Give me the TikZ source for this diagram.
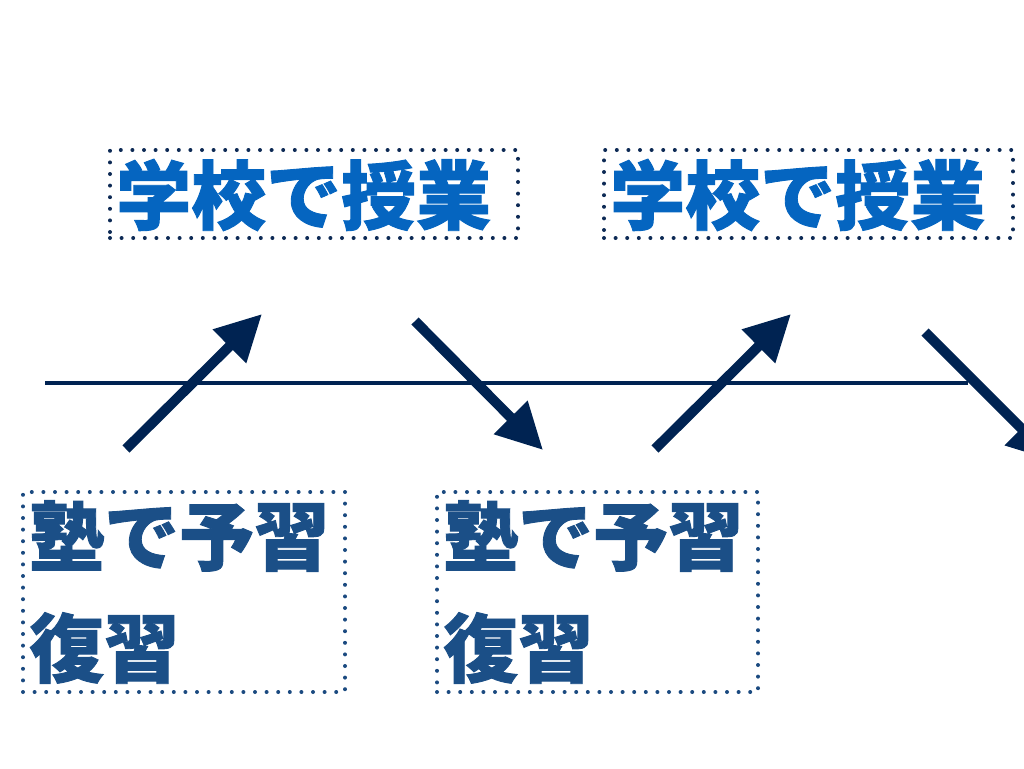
\documentclass[tikz,border=0pt]{standalone}
\usepackage{fontspec}
\newfontfamily\cjk{Noto Sans CJK JP}[BoldFeatures={FakeBold=1.2}]
\usetikzlibrary{arrows.meta}
\definecolor{navy}{HTML}{002352}
\definecolor{topblue}{HTML}{0565C0}
\definecolor{botblue}{HTML}{1B4F87}
\definecolor{dotnavy}{HTML}{0D2A55}
\definecolor{dotblue}{HTML}{1B4A80}
\tikzset{
  dotbox/.style={draw=dotnavy, line width=4pt, dash pattern=on 0pt off 11.6pt, line cap=round, inner sep=0pt, fill=none},
  toptext/.style={anchor=west, inner sep=0pt, text=topblue, font=\cjk\bfseries\fontsize{75}{75}\selectfont},
  bottext/.style={anchor=west, inner sep=0pt, text=botblue, font=\cjk\bfseries\fontsize{75}{75}\selectfont},
  bigarrow/.style={draw=navy, line width=10pt, -{Triangle[length=46pt,width=45pt]}},
  axis/.style={draw=navy, line width=3.5pt}
}
\begin{document}
\begin{tikzpicture}[x=1pt,y=-1pt]
\useasboundingbox (0,0) rectangle (1024,768);
\clip (0,0) rectangle (1024,768);
% boxes
\node[dotbox, minimum width=408pt, minimum height=88pt] (tb1) at (314,194) {};
\node[dotbox, minimum width=409pt, minimum height=88pt] (tb2) at (808.5,194) {};
\node[dotbox, draw=dotblue, minimum width=322pt, minimum height=200pt] (bb1) at (184,592) {};
\node[dotbox, draw=dotblue, minimum width=321pt, minimum height=200pt] (bb2) at (597.5,592) {};
% texts
\node[toptext] (t1) at (116,195) {学校で授業};
\node[toptext] (t2) at (610,195) {学校で授業};
\node[bottext] (b1a) at (29,536) {塾で予習};
\node[bottext] (b1b) at (29,648) {復習};
\node[bottext] (b2a) at (443,536) {塾で予習};
\node[bottext] (b2b) at (443,648) {復習};
% axis
\coordinate (la) at (45,383);
\coordinate (lb) at (968,383);
\draw[axis] (la) -- (lb);
% arrows
\coordinate (a1s) at (126,449); \coordinate (a1e) at (262,314);
\coordinate (a2s) at (415,321); \coordinate (a2e) at (543,450);
\coordinate (a3s) at (655,449); \coordinate (a3e) at (791,314);
\coordinate (a4s) at (925,332); \coordinate (a4e) at (1054,461);
\draw[bigarrow] (a1s) -- (a1e);
\draw[bigarrow] (a2s) -- (a2e);
\draw[bigarrow] (a3s) -- (a3e);
\draw[bigarrow] (a4s) -- (a4e);
\end{tikzpicture}
\end{document}
